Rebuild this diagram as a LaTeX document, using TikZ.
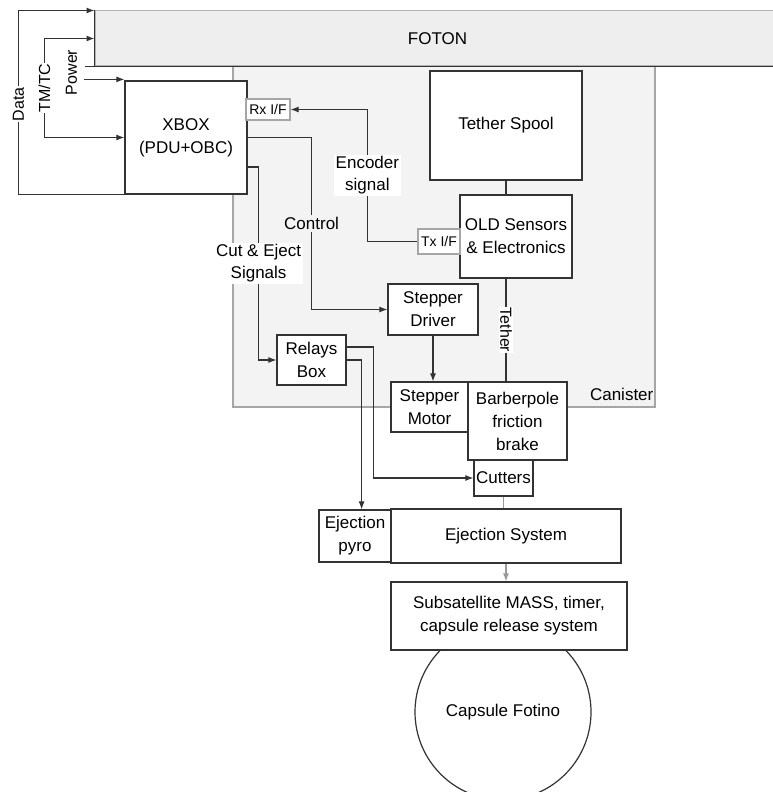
\documentclass[tikz,border=0pt]{standalone}
\usepackage{fontspec}
\setmainfont{Liberation Sans}
\usetikzlibrary{positioning, calc, arrows.meta}

\definecolor{linegray}{HTML}{333333}
\definecolor{fotonfill}{HTML}{EEEEEE}
\definecolor{canfill}{HTML}{F3F3F3}

\tikzset{
  blk/.style={draw=linegray, line width=1.2pt, fill=white, align=center, inner sep=1pt,
    font=\fontsize{17}{23}\selectfont},
  iface/.style={draw=gray!70, line width=1.2pt, fill=white, inner sep=1pt,
    font=\fontsize{14}{16}\selectfont},
  sig/.style={draw=linegray, line width=1.1pt},
  arr/.style={sig, -{Latex[length=8pt,width=6pt]}},
  lbl/.style={fill=white, inner sep=2pt, align=center, font=\fontsize{17}{22}\selectfont},
  vlbl/.style={fill=white, inner sep=1pt, font=\fontsize{16}{18}\selectfont},
}

\begin{document}
\begin{tikzpicture}[x=1pt, y=-1pt]
  \useasboundingbox (0,0) rectangle (772,792);

  % Canister si FOTON
  \node[fill=canfill, draw=gray!70, line width=1.1pt, minimum width=422pt, minimum height=341pt] (canister) at (444,236.5) {};
  \node[anchor=base east, inner sep=0pt, font=\fontsize{17}{20}\selectfont] (canlbl) at ($(canister.south east)+(-2,-7)$) {Canister};
  \node[fill=fotonfill, draw=gray!60, line width=1pt, minimum width=685pt, minimum height=55pt,
    font=\fontsize{17}{20}\selectfont] (foton) at (437.5,38.5) {FOTON};
  \draw[sig, line width=1.5pt] ([xshift=-10pt]foton.south west) -- (foton.south east);
  \draw[sig, line width=1.5pt] (foton.north west) -- (foton.south west);

  % Capsula (sub cutia MASS)
  \node[blk, circle, minimum size=176pt] (capsule) at (503,712) {Capsule Fotino};

  % Blocuri
  \foreach \nm/\cx/\cy/\w/\h/\txt in {
      xbox/186/137.5/122/113/{XBOX\\(PDU+OBC)},
      spool/506/125.5/152/109/{Tether Spool},
      old/516/236.5/112/83/{OLD Sensors\\\& Electronics},
      driver/433/309.5/90/51/{Stepper\\Driver},
      relays/311.5/360/69/50/{Relays\\Box},
      motor/429.5/407/77/50/{Stepper\\Motor},
      brake/517.5/421/99/78/{Barberpole\\friction\\brake},
      cutters/503.5/478/59/36/{Cutters},
      pyro/355/536/72/52/{Ejection\\pyro},
      ejection/506/536/230/54/{Ejection System},
      mass/509/616/236/68/{Subsatellite MASS, timer,\\capsule release system}} {
    \node[blk, minimum width=\w pt, minimum height=\h pt] (\nm) at (\cx,\cy) {\txt};
  }
  \node[iface, minimum width=44pt, minimum height=21pt] (rx) at (268,109.5) {Rx I/F};
  \node[iface, minimum width=42pt, minimum height=25pt] (tx) at (439,241.5) {Tx I/F};

  % Legaturi FOTON - XBOX
  \draw[arr] (xbox.south west) -- ++(-106,0) |- node[vlbl, rotate=90, pos=0.245] (data) {Data} (foton.north west);
  \draw[sig, {Latex[length=8pt,width=6pt]}-{Latex[length=8pt,width=6pt]}] (foton.west) -- ++(-50,0) |- node[vlbl, rotate=90, pos=0.25] (tmtc) {TM/TC} (xbox.west);
  \node[vlbl, rotate=90] (power) at ([xshift=-53pt, yshift=8pt]xbox.north west) {Power};
  \draw[arr] ([xshift=-40pt, yshift=1pt]xbox.north west) -- ([yshift=1pt]xbox.north west);

  % Semnale
  \draw[arr] (tx.west) -- ++(-50,0) |- node[lbl, pos=0.25] (enc) {Encoder\\signal} (rx.east);
  \draw[arr] (xbox.east) -- ++(64,0) |- node[lbl, fill=canfill, pos=0.25] (ctrl) {Control} (driver.west);
  \draw[arr] (xbox.east) ++(0,29.5) -- ++(11,0) |- node[lbl, pos=0.25] (cut) {Cut \& Eject\\Signals} (relays.west);
  \draw[arr] ([yshift=13pt]relays.east) -- ++(27,0) |- (cutters.west);
  \draw[arr] (relays.east) -- ++(15,0) coordinate (r2) -- (r2 |- pyro.north);
  \draw[arr] (driver.south) -- (driver.south |- motor.north);

  % Tether
  \draw[sig] (spool.south) -- (spool.south |- old.north);
  \draw[sig] (spool.south |- old.south) -- node[vlbl, rotate=-90] (tether) {Tether} (spool.south |- brake.north);
  \draw[draw=gray!80, line width=1.2pt] (cutters.south) -- (cutters.south |- ejection.north);
  \draw[draw=gray!80, line width=1.2pt, -{Latex[length=8pt,width=6pt]}] (ejection.south) -- (ejection.south |- mass.north);
\end{tikzpicture}
\end{document}
